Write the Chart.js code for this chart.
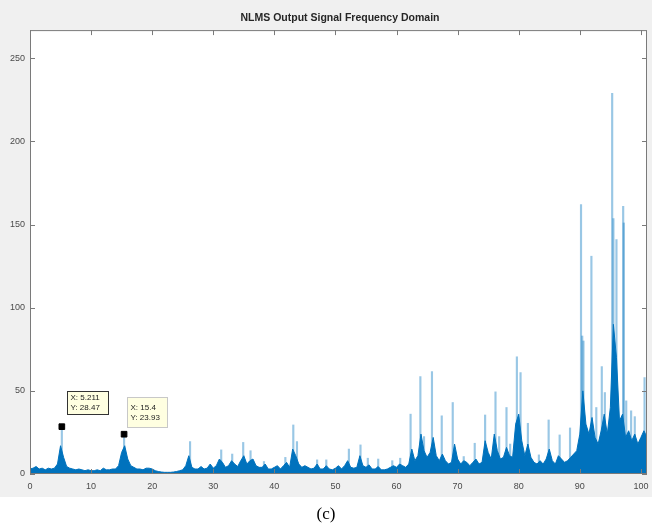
<!DOCTYPE html>
<html>
<head>
<meta charset="utf-8">
<script src="https://cdn.jsdelivr.net/npm/chart.js@4"></script>
<style>
  html, body { margin: 0; padding: 0; background: #ffffff; }
  #wrap { position: relative; width: 652px; height: 527px; }
</style>
</head>
<body>
<div id="wrap"><canvas id="nlms-chart"></canvas></div>
<script>
// frequency grid for the dense body of the spectrum (0 .. 101, step 0.5)
var freqStart = 0, freqStep = 0.5;
var bodyMag = [
  3, 3.5, 4.5, 3, 3.5, 2.5, 3.5, 3, 3.5, 6,
  17, 10, 4.5, 3.5, 3, 2.5, 3, 2.5, 2, 2.5,
  2, 2, 2.5, 2, 3.5, 2.5, 2.5, 3, 3, 5,
  13, 17, 9, 5, 4, 3, 3, 2.5, 3.5, 3.5,
  3, 2, 1.5, 1.2, 1, 1, 1, 1.2, 1.5, 2,
  2.5, 5, 11, 4, 3, 3, 4.5, 3, 3.5, 6,
  3.5, 5, 9, 7, 4, 5, 8, 6, 4.5, 8,
  11, 6, 8, 9, 5, 4, 4, 6, 3, 3,
  4, 5, 3, 5, 7, 4, 15, 11, 6, 4,
  5, 4, 3, 3.5, 6, 3, 3, 5, 3, 2.5,
  3.5, 5, 3, 5, 8, 4, 3.5, 4, 11, 5,
  4, 5.5, 3, 3, 4.5, 2.5, 2.5, 3, 4, 5,
  4, 6, 5, 4, 6, 15, 8, 11, 24, 14,
  10, 13, 22, 11, 8, 12, 8, 6, 7, 18,
  9, 6, 8, 7, 5, 7, 9, 6, 7, 20,
  13, 9, 24, 14, 9, 10, 16, 11, 10, 30,
  36, 20, 11, 18, 10, 7, 6, 8, 6, 9,
  15, 8, 6, 11, 9, 7, 8, 10, 12, 14,
  24, 50, 30, 24, 34, 22, 18, 26, 36, 24,
  40, 90, 70, 32, 36, 22, 26, 20, 24, 18,
  22, 26, 22
];

// narrow peaks that rise above the body
var spikeFreq = [5.211, 15.4, 26.2, 31.3, 33.1, 34.9, 36.1, 38.3, 41.8, 43.1,
  43.7, 47, 48.5, 52.2, 54.1, 55.3, 57, 59.3, 60.6, 62.3,
  63.9, 64.5, 65.8, 67.4, 69.2, 71, 72.8, 74.5, 76.2, 76.8,
  78, 78.6, 79.7, 80.3, 81.5, 83.3, 84.9, 86.7, 88.4, 90.2,
  90.4, 90.6, 91.9, 92.7, 93.6, 94.1, 95.3, 95.5, 96.0, 97.1,
  97.2, 97.6, 98.4, 99, 100.6];
var spikeMag = [28.47, 23.93, 19.5, 14.5, 12, 19, 14, 7.5, 10, 29.5,
  19.5, 8.5, 8.5, 15, 17.5, 9.5, 9, 8, 9.5, 36,
  58.6, 22.5, 61.6, 35, 43, 10.5, 18.5, 35.5, 49.4, 22.5,
  40, 18, 70.5, 61, 30.5, 11.5, 32.5, 23.5, 27.7, 162,
  83, 80, 131, 40, 64.6, 49, 229, 153.6, 141, 161,
  151, 44, 38, 34.5, 58];

// data tips
var tipX = [5.211, 15.4];
var tipY = [28.47, 23.93];

var xTicks = [0, 10, 20, 30, 40, 50, 60, 70, 80, 90, 100];
var yTicks = [0, 50, 100, 150, 200, 250];

var bodyPoints = bodyMag.map(function (m, i) { return { x: freqStart + i * freqStep, y: m }; });
var spikePoints = spikeFreq.map(function (f, i) { return { x: f, y: spikeMag[i] }; });
var tipPoints = tipX.map(function (f, i) { return { x: f, y: tipY[i] }; });

var labelFont = '9px "Liberation Sans", Arial, sans-serif';

var frame = {
  id: 'frame',
  beforeDraw: function (chart) {
    var c = chart.ctx, a = chart.chartArea;
    c.save();
    c.fillStyle = '#ffffff';
    c.fillRect(0, 0, chart.width, chart.height);
    c.fillStyle = '#f0f0f0';
    c.fillRect(0, 0, chart.width, 497);
    c.fillStyle = '#ffffff';
    c.fillRect(a.left, a.top, a.right - a.left, a.bottom - a.top);
    c.restore();
  },
  afterDraw: function (chart) {
    var c = chart.ctx, a = chart.chartArea;
    var xs = chart.scales.x, ys = chart.scales.y;
    c.save();
    c.strokeStyle = '#7a7a7a';
    c.lineWidth = 1;
    c.strokeRect(a.left + 0.5, a.top + 0.5, a.right - a.left - 1, a.bottom - a.top - 1);
    c.beginPath();
    xTicks.forEach(function (t) {
      var px = Math.round(xs.getPixelForValue(t)) + 0.5;
      c.moveTo(px, a.bottom); c.lineTo(px, a.bottom - 5);
      c.moveTo(px, a.top); c.lineTo(px, a.top + 5);
    });
    yTicks.forEach(function (t) {
      var py = Math.round(ys.getPixelForValue(t)) + 0.5;
      c.moveTo(a.left, py); c.lineTo(a.left + 5, py);
      c.moveTo(a.right, py); c.lineTo(a.right - 5, py);
    });
    c.stroke();

    // tick labels
    c.fillStyle = '#4a4a4a';
    c.font = labelFont;
    c.textBaseline = 'middle';
    c.textAlign = 'center';
    xTicks.forEach(function (t) {
      c.fillText(String(t), xs.getPixelForValue(t), a.bottom + 13);
    });
    c.textAlign = 'right';
    yTicks.forEach(function (t) {
      c.fillText(String(t), a.left - 5, ys.getPixelForValue(t));
    });

    // data tip boxes
    var boxes = [
      { dx: 5, dy: -36, w: 41, h: 23, border: '#333333' },
      { dx: 3, dy: -37, w: 40, h: 30, border: '#c8c8c8' }
    ];
    c.font = '8px "Liberation Sans", Arial, sans-serif';
    c.textAlign = 'left';
    tipX.forEach(function (f, i) {
      var px = xs.getPixelForValue(f), py = ys.getPixelForValue(tipY[i]);
      var b = boxes[i];
      var bx = Math.round(px + b.dx) + 0.5, by = Math.round(py + b.dy) + 0.5;
      c.fillStyle = '#ffffe1';
      c.fillRect(bx, by, b.w, b.h);
      c.strokeStyle = b.border;
      c.strokeRect(bx, by, b.w, b.h);
      c.fillStyle = '#222222';
      c.fillText('X: ' + f, bx + 3, by + b.h / 2 - 5);
      c.fillText('Y: ' + tipY[i], bx + 3, by + b.h / 2 + 5);
    });

    c.fillStyle = '#000000';
    c.font = '17px "Liberation Serif", "Times New Roman", serif';
    c.textAlign = 'center';
    c.fillText('(c)', 326, 515);
    c.restore();
  }
};

new Chart(document.getElementById('nlms-chart'), {
  type: 'line',
  data: {
    datasets: [{
      type: 'scatter',
      data: tipPoints,
      pointStyle: 'rect',
      pointRadius: 4,
      backgroundColor: '#000000',
      borderColor: '#000000',
      order: 0
    }, {
      label: 'body',
      data: bodyPoints,
      borderColor: '#0072BD',
      backgroundColor: '#0072BD',
      borderWidth: 1,
      fill: 'origin',
      pointRadius: 0,
      tension: 0,
      order: 1
    }, {
      type: 'bar',
      data: spikePoints,
      backgroundColor: 'rgba(0, 114, 189, 0.4)',
      barThickness: 1.5,
      order: 2
    }]
  },
  options: {
    responsive: true,
    maintainAspectRatio: false,
    animation: false,
    layout: { padding: { left: 30, right: 2, top: 0, bottom: 53 } },
    plugins: {
      legend: { display: false },
      tooltip: { enabled: false },
      title: {
        display: true,
        text: 'NLMS Output Signal Frequency Domain',
        color: '#262626',
        font: { family: '"Liberation Sans", Arial, sans-serif', size: 10.5, weight: 'bold' },
        padding: { top: 12, bottom: 5.5 }
      }
    },
    scales: {
      x: {
        type: 'linear',
        min: 0,
        max: 101,
        offset: false,
        grid: { display: false, drawTicks: false },
        border: { display: false },
        afterBuildTicks: function (s) { s.ticks = xTicks.map(function (v) { return { value: v }; }); },
        ticks: { display: false }
      },
      y: {
        min: 0,
        max: 267,
        grid: { display: false, drawTicks: false },
        border: { display: false },
        afterBuildTicks: function (s) { s.ticks = yTicks.map(function (v) { return { value: v }; }); },
        ticks: { display: false }
      }
    }
  },
  plugins: [frame]
});
</script>
</body>
</html>
